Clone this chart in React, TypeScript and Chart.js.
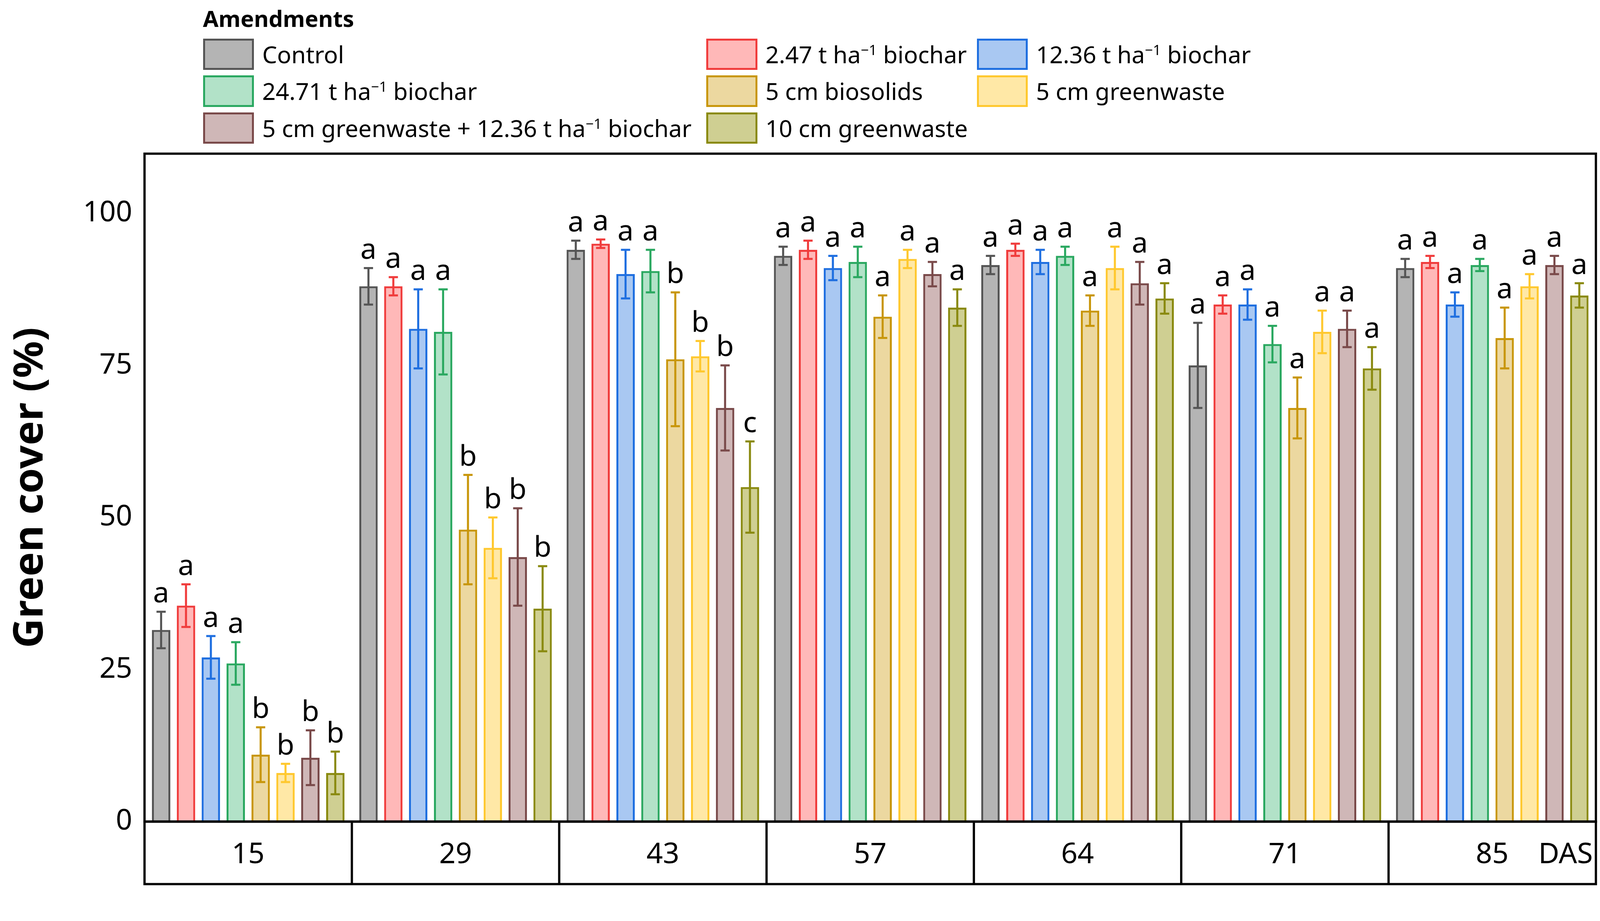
import React, { useEffect, useRef } from "react";
import { Chart, registerables } from "chart.js";
Chart.register(...registerables);

const days = ["15", "29", "43", "57", "64", "71", "85"];
const seriesNames = ["Control", "2.47 t ha⁻¹ biochar", "12.36 t ha⁻¹ biochar", "24.71 t ha⁻¹ biochar", "5 cm biosolids", "5 cm greenwaste", "5 cm greenwaste + 12.36 t ha⁻¹ biochar", "10 cm greenwaste"];
const control = [31.5, 88, 94, 93, 91.5, 75, 91];
const bc247 = [35.5, 88, 95, 94, 94, 85, 92];
const bc1236 = [27, 81, 90, 91, 92, 85, 85];
const bc2471 = [26, 80.5, 90.5, 92, 93, 78.5, 91.5];
const biosolids = [11, 48, 76, 83, 84, 68, 79.5];
const greenwaste = [8, 45, 76.5, 92.5, 91, 80.5, 88];
const gwbc = [10.5, 43.5, 68, 90, 88.5, 81, 91.5];
const gw10 = [8, 35, 55, 84.5, 86, 74.5, 86.5];
const errControl = [3, 3, 1.5, 1.5, 1.5, 7, 1.5];
const err247 = [3.5, 1.5, 0.7, 1.5, 1, 1.5, 1];
const err1236 = [3.5, 6.5, 4, 2, 2, 2.5, 2];
const err2471 = [3.5, 7, 3.5, 2.5, 1.5, 3, 1];
const errBio = [4.5, 9, 11, 3.5, 2.5, 5, 5];
const errGw = [1.5, 5, 2.5, 1.5, 3.5, 3.5, 2];
const errGwbc = [4.5, 8, 7, 2, 3.5, 3, 1.5];
const errGw10 = [3.5, 7, 7.5, 3, 2.5, 3.5, 2];
const letters = [
  ["a", "a", "a", "a", "b", "b", "b", "b"],
  ["a", "a", "a", "a", "b", "b", "b", "b"],
  ["a", "a", "a", "a", "b", "b", "b", "c"],
  ["a", "a", "a", "a", "a", "a", "a", "a"],
  ["a", "a", "a", "a", "a", "a", "a", "a"],
  ["a", "a", "a", "a", "a", "a", "a", "a"],
  ["a", "a", "a", "a", "a", "a", "a", "a"],
];
const yTicks = [0, 25, 50, 75, 100];

const values = [control, bc247, bc1236, bc2471, biosolids, greenwaste, gwbc, gw10];
const errs = [errControl, err247, err1236, err2471, errBio, errGw, errGwbc, errGw10];
const borders = ["#555555", "#f03c3c", "#1f6fe0", "#2aa860", "#c8960a", "#ffc82e", "#7a4a4a", "#8a8a10"];
const fills = ["#b4b4b4", "#ffb8b8", "#a9c8f2", "#b2e2c8", "#ecd8a0", "#ffe8a6", "#cfb7b7", "#cfcf92"];

const FONT = "'Noto Sans', sans-serif";

const legendItems = [
  { i: 0, x: 198, y: 53 }, { i: 1, x: 689, y: 53 }, { i: 2, x: 953, y: 53 },
  { i: 3, x: 198, y: 89 }, { i: 4, x: 689, y: 89 }, { i: 5, x: 953, y: 89 },
  { i: 6, x: 198, y: 125 }, { i: 7, x: 689, y: 125 },
];

function label(s: string) {
  const parts = s.split("⁻¹");
  if (parts.length === 1) return s;
  return (<>{parts[0]}<sup style={{ fontSize: "0.6em" }}>−1</sup>{parts[1]}</>);
}

export default function App() {
  const ref = useRef<HTMLCanvasElement>(null);
  const W = typeof window !== "undefined" ? window.innerWidth : 4247;
  const H = typeof window !== "undefined" ? window.innerHeight : 2359;
  const K = Math.min(W / 1561, H / 867);
  useEffect(() => {
    const overlay = {
      id: "overlay",
      afterDatasetsDraw(chart: any) {
        const { ctx, scales, chartArea } = chart;
        const y = scales.y, x = scales.x;
        ctx.save();
        values.forEach((vals, si) => {
          const meta = chart.getDatasetMeta(si);
          meta.data.forEach((bar: any, i: number) => {
            const top = y.getPixelForValue(vals[i] + errs[si][i]);
            const bot = y.getPixelForValue(vals[i] - errs[si][i]);
            ctx.strokeStyle = borders[si];
            ctx.lineWidth = 2 * K;
            ctx.beginPath();
            ctx.moveTo(bar.x, top); ctx.lineTo(bar.x, bot);
            ctx.moveTo(bar.x - 4.5 * K, top); ctx.lineTo(bar.x + 4.5 * K, top);
            ctx.moveTo(bar.x - 4.5 * K, bot); ctx.lineTo(bar.x + 4.5 * K, bot);
            ctx.stroke();
            ctx.fillStyle = "#000";
            ctx.font = `${28 * K}px ${FONT}`;
            ctx.textAlign = "center";
            ctx.textBaseline = "bottom";
            ctx.fillText(letters[i][si], bar.x, top - 3 * K);
          });
        });
        ctx.strokeStyle = "#000";
        ctx.lineWidth = 2.2 * K;
        ctx.strokeRect(chartArea.left, chartArea.top, chartArea.right - chartArea.left, chartArea.bottom - chartArea.top);
        const bTop = chartArea.bottom, bBot = 863 * K;
        ctx.strokeRect(chartArea.left, bTop, chartArea.right - chartArea.left, bBot - bTop);
        ctx.beginPath();
        for (let i = 1; i < days.length; i++) {
          const px = (x.getPixelForValue(i - 1) + x.getPixelForValue(i)) / 2;
          ctx.moveTo(px, bTop); ctx.lineTo(px, bBot);
        }
        ctx.stroke();
        ctx.font = `${28 * K}px ${FONT}`;
        ctx.textBaseline = "middle";
        ctx.textAlign = "center";
        days.forEach((d, i) => ctx.fillText(d, x.getPixelForValue(i), (bTop + bBot) / 2 + 2 * K));
        ctx.textAlign = "right";
        ctx.fillText("DAS", chartArea.right - 3 * K, (bTop + bBot) / 2 + 2 * K);
        ctx.restore();
      },
    };
    const chart = new Chart(ref.current!, {
      type: "bar",
      data: {
        labels: days,
        datasets: values.map((v, si) => ({
          label: seriesNames[si], data: v, backgroundColor: fills[si], borderColor: borders[si],
          borderWidth: 2 * K, categoryPercentage: 0.96, barPercentage: 0.74,
        })),
      },
      options: {
        responsive: false, animation: false,
        layout: { padding: { top: 150 * K, right: W - 1557 * K, bottom: H - 802 * K, left: 0 } },
        plugins: { legend: { display: false }, tooltip: { enabled: false } },
        scales: {
          x: { display: false, offset: true, grid: { display: false } },
          y: {
            min: 0, max: 109.8,
            afterFit: (s: any) => { s.width = 141 * K; },
            afterBuildTicks: (s: any) => { s.ticks = yTicks.map(v => ({ value: v })); },
            grid: { display: false, drawTicks: true, tickLength: 8 * K, tickColor: "#000", tickWidth: 2 * K } as any,
            border: { display: false },
            ticks: { color: "#000", font: { size: 28 * K, family: FONT }, padding: 4 * K },
            title: { display: true, text: "Green cover (%)", color: "#000", font: { size: 40 * K, weight: "bold", family: FONT }, padding: 6 * K },
          },
        },
      },
      plugins: [overlay],
    });
    return () => chart.destroy();
  }, []);
  return (
    <div style={{ position: "fixed", left: 0, top: 0, width: W, height: H, background: "#fff", fontFamily: FONT, overflow: "hidden" }}>
      <canvas ref={ref} width={W} height={H} style={{ position: "absolute", left: 0, top: 0 }} />
      <div style={{ position: "absolute", left: 198 * K, top: 4 * K, fontSize: 22 * K, fontWeight: "bold", lineHeight: `${28 * K}px` }}>Amendments</div>
      {legendItems.map(({ i, x, y }) => (
        <div key={i} style={{ position: "absolute", left: x * K, top: (y - 16) * K, height: 32 * K, display: "flex", alignItems: "center", whiteSpace: "nowrap", fontSize: 23 * K, lineHeight: 1 }}>
          <div style={{ width: 46 * K, height: 27 * K, border: `${2 * K}px solid ${borders[i]}`, background: fills[i], marginRight: 8 * K }} />
          <span>{label(seriesNames[i])}</span>
        </div>
      ))}
    </div>
  );
}
